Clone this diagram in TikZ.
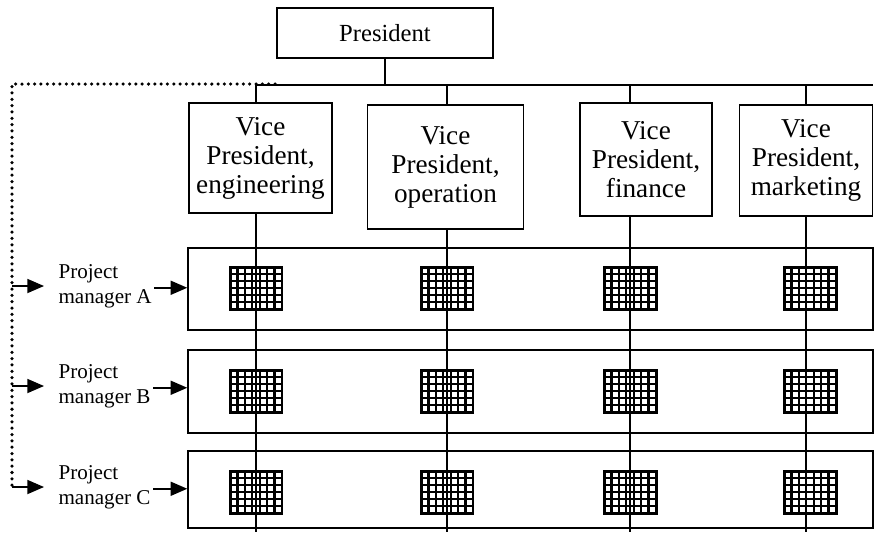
\documentclass[tikz,border=0pt]{standalone}
\usepackage{fontspec}
\setmainfont{Liberation Serif}
\usetikzlibrary{arrows.meta,calc}

\begin{document}
\begin{tikzpicture}[x=0.02cm, y=-0.02cm, line width=0.9pt,
  post/.style ={draw, rectangle, align=center, inner sep=0pt,
    font=\fontsize{15.5}{16.5}\selectfont},
  project/.style ={draw, rectangle, minimum width=13.7cm, inner sep=0pt},
  manager/.style ={align=left, anchor=west, inner xsep=1pt,
    font=\fontsize{12}{14}\selectfont},
  pmarrow/.style ={-{Triangle[length=9.5pt,width=8pt]}},
  dotline/.style ={line width=2pt, line cap=round, dash pattern=on 0pt off 3.6pt},
  cellgrid/.style ={draw, line width=1.7pt, minimum width=1.04cm,
    minimum height=0.84cm, inner sep=0pt, fill=white,
    path picture={
      \foreach \k in {1,...,6}
        \draw[line width=1.3pt]
          ($(path picture bounding box.south west)!\k/7!(path picture bounding box.south east)$) --
          ($(path picture bounding box.north west)!\k/7!(path picture bounding box.north east)$);
      \foreach \k in {1,...,5}
        \draw[line width=1.3pt]
          ($(path picture bounding box.south west)!\k/6!(path picture bounding box.north west)$) --
          ($(path picture bounding box.south east)!\k/6!(path picture bounding box.north east)$);
    }}]
 \useasboundingbox (0,0) rectangle (874,532);

 % top of the chart
 \node[post, minimum width=4.32cm, minimum height=1cm, font=\fontsize{14}{16}\selectfont] (pres) at (385,33) {President};
 \node[post, minimum width=2.86cm, minimum height=2.2cm] (eng) at (260.5,158) {Vice\\President,\\engineering};
 \node[post, minimum width=3.12cm, minimum height=2.48cm] (ops) at (445.5,167) {Vice\\President,\\operation};
 \node[post, minimum width=2.64cm, minimum height=2.26cm] (fin) at (646,159.5) {Vice\\President,\\finance};
 \node[post, minimum width=2.66cm, minimum height=2.22cm] (mkt) at (806,160.5) {Vice\\President,\\marketing};

 \coordinate (busend) at (873,85);
 \coordinate (floor) at (0,532);
 \coordinate (dtop) at (275,84);
 \coordinate (dcorner) at (12,84);

 % project rows
 \node[project, minimum height=1.64cm] (rowA) at (530.5,289) {};
 \node[project, minimum height=1.66cm] (rowB) at (530.5,391.5) {};
 \node[project, minimum height=1.54cm] (rowC) at (530.5,489.5) {};

 \foreach \r/\ry in {A/288,B/391,C/492}
  \foreach \c/\cx in {eng/256,ops/447,fin/630,mkt/810}
   \node[cellgrid] (\r-\c) at (\cx,\ry) {};

 % lines of authority
 \draw (pres) -- (pres |- busend);
 \foreach \c/\cx in {eng/256,ops/447,fin/630,mkt/806} {
  \coordinate (top-\c) at (\cx,85);
  \draw (top-\c) -- (top-\c |- \c.north);
  \draw (top-\c |- \c.south) -- (top-\c |- floor);
 }
 \draw (top-eng) -- (busend);

 % project managers
 \node[manager] (pmA) at (56,286) {Project\\manager A};
 \node[manager] (pmB) at (56,386) {Project\\manager B};
 \node[manager] (pmC) at (56,487) {Project\\manager C};

 \draw[dotline] (dtop) -- (dcorner) -- (dcorner |- pmC.west);
 \foreach \p/\r in {pmA/rowA,pmB/rowB,pmC/rowC} {
  \draw[pmarrow, shorten >=0.24cm] (dcorner |- \p.west) -- (\p.west);
  \draw[pmarrow] ([yshift=-1pt]\p.east) -- ([yshift=-1pt]\p.east -| \r.west);
 }
\end{tikzpicture}
\end{document}
